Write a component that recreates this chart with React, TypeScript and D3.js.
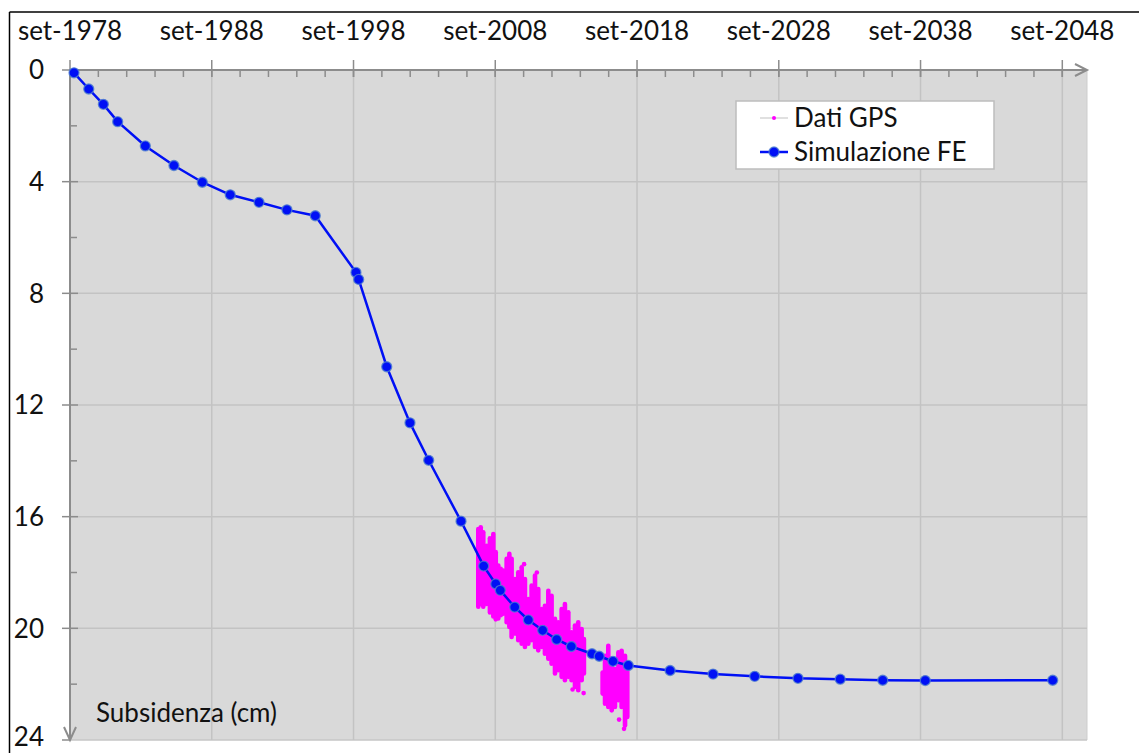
import React from "react";
import * as d3 from "d3";

// Simulazione FE: time (decimal years) and subsidence (cm)
const simYears = [
  1978.95, 1979.99, 1981.02, 1982.03, 1983.98, 1986.0, 1988.0, 1989.97, 1992.0,
  1993.97, 1995.97, 1998.84, 1999.03, 2001.01, 2002.65, 2003.97, 2006.25,
  2007.85, 2008.7, 2009.02, 2010.04, 2011.0, 2012.01, 2013.0, 2014.03, 2015.49,
  2016.0, 2016.97, 2018.05, 2021.0, 2024.03, 2026.97, 2030.02, 2033.0, 2036.0,
  2039.0, 2047.99,
];
const simSubsidence = [
  0.1, 0.68, 1.23, 1.85, 2.72, 3.42, 4.02, 4.47, 4.74, 5.01, 5.22, 7.25, 7.5,
  10.63, 12.64, 13.98, 16.16, 17.77, 18.41, 18.64, 19.24, 19.7, 20.07, 20.4,
  20.65, 20.91, 21.0, 21.18, 21.33, 21.51, 21.64, 21.72, 21.79, 21.82, 21.86,
  21.87, 21.86,
];

// Dati GPS: spread of the daily solutions within each time window (cm)
const gpsYears = [
  2007.47, 2007.64, 2007.82, 2008.06, 2008.29, 2008.53, 2008.7, 2008.88, 2009.05,
  2009.23, 2009.47, 2009.66, 2009.82, 2010.06, 2010.29, 2010.53, 2010.76, 2011.0,
  2011.23, 2011.47, 2011.7, 2011.94, 2012.17, 2012.41, 2012.64, 2012.88, 2013.11,
  2013.35, 2013.58, 2013.82, 2014.05, 2014.29, 2014.52, 2014.76, 2014.92,
  2016.24, 2016.41, 2016.64, 2016.88, 2017.11, 2017.35, 2017.58, 2017.82, 2017.98,
];
const gpsTop = [
  16.37, 16.31, 16.49, 16.97, 16.7, 16.55, 17.2, 17.68, 17.8, 17.86, 17.44,
  17.26, 17.44, 18.16, 17.92, 17.74, 18.16, 18.88, 18.4, 18.04, 18.52, 19.24,
  19.12, 18.58, 18.76, 19.59, 19.71, 19.24, 19.06, 19.35, 20.07, 19.83, 19.71,
  19.95, 20.31, 21.51, 20.91, 20.55, 21.03, 21.39, 20.79, 20.73, 20.91, 21.39,
];
const gpsBottom = [
  19.3, 19.2, 19.3, 19.2, 19.5, 19.65, 19.75, 19.72, 19.6, 19.55, 19.85,
  20.02, 20.38, 20.26, 20.5, 20.62, 20.74, 20.62, 20.5, 20.74, 20.86, 20.74,
  20.98, 21.16, 21.34, 21.69, 21.57, 21.81, 21.93, 21.81, 21.93, 22.17, 22.29,
  21.93, 21.69, 22.41, 22.77, 22.89, 23.01, 22.89, 22.65, 22.89, 23.55, 23.25,
];
// Isolated GPS solutions outside the main cloud
const gpsOutYears = [2010.7, 2011.6, 2014.12, 2014.9, 2017.4, 2017.75];
const gpsOutValues = [17.7, 18.0, 22.19, 22.32, 23.27, 23.6];

const xTickYears = [1978.667, 1988.667, 1998.667, 2008.667, 2018.667, 2028.667, 2038.667, 2048.667];
const xTickLabels = ["set-1978", "set-1988", "set-1998", "set-2008", "set-2018", "set-2028", "set-2038", "set-2048"];
const yTicks = [0, 4, 8, 12, 16, 20, 24];

const W = 1139;
const H = 753;
const FONT = "Lato, 'Open Sans', sans-serif";
const AXIS = "#8c8c8c";
const GRID = "#c3c3c3";
const BLUE = "#0010f5";
const MAGENTA = "#ff00ff";

export default function App() {
  const left = 70;
  const top = 70;
  const plotRight = 1087;
  const plotBottom = 740;

  const x = d3.scaleLinear().domain([1978.667, 2048.667]).range([left, 1062.3]);
  const y = d3.scaleLinear().domain([0, 24]).range([top, plotBottom]);

  const minorX = d3.range(1978.667, 2050, 2);
  const minorY = d3.range(2, 24, 4);

  const simPts = simYears.map((t, i) => [t, simSubsidence[i]] as [number, number]);
  const line = d3
    .line<[number, number]>()
    .x((d) => x(d[0]))
    .y((d) => y(d[1]));

  return (
    <svg
      width={W}
      height={H}
      style={{ position: "absolute", left: 0, top: 0, display: "block", background: "#fff" }}
      fontFamily={FONT}
    >
      {/* frame */}
      <line x1={9.5} y1={12} x2={W} y2={12} stroke="#000" strokeWidth={1.5} />
      <line x1={9.5} y1={12} x2={9.5} y2={H} stroke="#000" strokeWidth={1.5} />

      {/* plot area */}
      <rect x={left} y={top} width={plotRight - left} height={plotBottom - top} fill="#d9d9d9" />
      <line x1={plotRight} y1={top} x2={plotRight} y2={plotBottom} stroke="#cdcdcd" strokeWidth={1} />
      <line x1={left} y1={plotBottom} x2={plotRight} y2={plotBottom} stroke="#c6c6c6" strokeWidth={1.5} />

      {/* grid */}
      {xTickYears.slice(1).map((t) => (
        <line key={"gx" + t} x1={x(t)} x2={x(t)} y1={top} y2={plotBottom} stroke={GRID} strokeWidth={1.5} />
      ))}
      {yTicks.slice(1, -1).map((v) => (
        <line key={"gy" + v} x1={left} x2={plotRight} y1={y(v)} y2={y(v)} stroke={GRID} strokeWidth={1.5} />
      ))}

      {/* x axis (top) */}
      <line x1={left} y1={top} x2={plotRight} y2={top} stroke={AXIS} strokeWidth={2} />
      <polyline
        points={`${plotRight - 12},${top - 6} ${plotRight},${top} ${plotRight - 12},${top + 6}`}
        fill="none"
        stroke={AXIS}
        strokeWidth={2}
      />
      {minorX.map((t) => (
        <line key={"mx" + t} x1={x(t)} x2={x(t)} y1={top} y2={top + 7} stroke={AXIS} strokeWidth={1.5} />
      ))}
      {xTickYears.map((t) => (
        <line key={"tx" + t} x1={x(t)} x2={x(t)} y1={top - 10} y2={top + 7} stroke={AXIS} strokeWidth={1.5} />
      ))}
      {xTickYears.map((t, i) => (
        <text key={"lx" + t} x={x(t)} y={40} textAnchor="middle" fontSize={26} fill="#111">
          {xTickLabels[i]}
        </text>
      ))}

      {/* y axis (left, pointing down) */}
      <line x1={left} y1={top} x2={left} y2={plotBottom} stroke={AXIS} strokeWidth={2} />
      <polyline
        points={`${left - 6},${plotBottom - 13} ${left},${plotBottom} ${left + 6},${plotBottom - 13}`}
        fill="none"
        stroke={AXIS}
        strokeWidth={2}
      />
      {minorY.map((v) => (
        <line key={"my" + v} x1={left} x2={left + 7} y1={y(v)} y2={y(v)} stroke={AXIS} strokeWidth={1.5} />
      ))}
      {yTicks.slice(0, -1).map((v) => (
        <line key={"ty" + v} x1={left - 8} x2={left + 8} y1={y(v)} y2={y(v)} stroke={AXIS} strokeWidth={1.5} />
      ))}
      <line x1={left - 8} x2={left} y1={plotBottom} y2={plotBottom} stroke={AXIS} strokeWidth={1.5} />
      {yTicks.map((v) => (
        <text
          key={"ly" + v}
          x={44}
          y={Math.min(y(v), plotBottom - 3)}
          dy="0.36em"
          textAnchor="end"
          fontSize={26}
          fill="#111"
        >
          {v}
        </text>
      ))}
      <text x={96} y={722} fontSize={26} fill="#111">
        Subsidenza (cm)
      </text>

      {/* GPS data */}
      <g stroke={MAGENTA} strokeLinecap="round">
        {gpsYears.map((t, i) => (
          <line
            key={"g" + i}
            x1={x(t)}
            x2={x(t)}
            y1={y(gpsTop[i]) + 2}
            y2={y(gpsBottom[i]) - 2}
            strokeWidth={4.6}
          />
        ))}
      </g>
      {gpsOutYears.map((t, i) => (
        <circle key={"go" + i} cx={x(t)} cy={y(gpsOutValues[i])} r={2.3} fill={MAGENTA} />
      ))}

      {/* FE simulation */}
      <path d={line(simPts) || ""} fill="none" stroke={BLUE} strokeWidth={2.5} />
      {simPts.map((d, i) => (
        <circle
          key={"s" + i}
          cx={x(d[0])}
          cy={y(d[1])}
          r={5}
          fill={BLUE}
          stroke="#4f7fd0"
          strokeOpacity={0.8}
          strokeWidth={1.3}
        />
      ))}

      {/* legend */}
      <rect x={736} y={101} width={258} height={68} fill="#fff" stroke="#bdbdbd" strokeWidth={1.5} />
      <line x1={760} x2={788} y1={118} y2={118} stroke="#d6d6d6" strokeWidth={1.5} />
      <circle cx={774} cy={118} r={2} fill={MAGENTA} />
      <text x={794} y={118} dy="0.36em" fontSize={26} fill="#111">
        Dati GPS
      </text>
      <line x1={760} x2={788} y1={152} y2={152} stroke={BLUE} strokeWidth={2.5} />
      <circle cx={774} cy={152} r={5} fill={BLUE} stroke="#4f7fd0" strokeOpacity={0.8} strokeWidth={1.3} />
      <text x={794} y={152} dy="0.36em" fontSize={26} fill="#111">
        Simulazione FE
      </text>
    </svg>
  );
}
